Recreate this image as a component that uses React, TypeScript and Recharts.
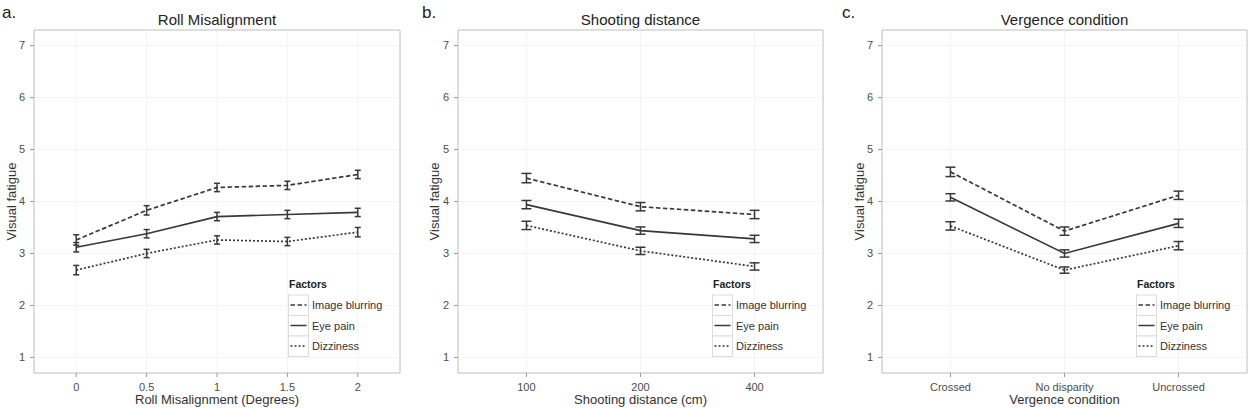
import React from 'react';
import {
  LineChart,
  Line,
  XAxis,
  YAxis,
  CartesianGrid,
  ErrorBar,
  ReferenceArea,
  Legend
} from 'recharts';

// Panel a: roll misalignment
const rollLabels = ['0', '0.5', '1', '1.5', '2'];
const rollBlur = [3.26, 3.83, 4.27, 4.31, 4.52];
const rollBlurErr = [0.1, 0.09, 0.08, 0.08, 0.08];
const rollEye = [3.12, 3.38, 3.71, 3.75, 3.79];
const rollEyeErr = [0.09, 0.08, 0.08, 0.08, 0.08];
const rollDizzy = [2.68, 3.0, 3.26, 3.23, 3.41];
const rollDizzyErr = [0.09, 0.08, 0.08, 0.08, 0.09];

// Panel b: shooting distance
const distLabels = ['100', '200', '400'];
const distBlur = [4.45, 3.9, 3.75];
const distBlurErr = [0.09, 0.08, 0.08];
const distEye = [3.94, 3.44, 3.28];
const distEyeErr = [0.08, 0.07, 0.07];
const distDizzy = [3.54, 3.05, 2.75];
const distDizzyErr = [0.08, 0.07, 0.07];

// Panel c: vergence condition
const vergLabels = ['Crossed', 'No disparity', 'Uncrossed'];
const vergBlur = [4.57, 3.43, 4.12];
const vergBlurErr = [0.09, 0.08, 0.08];
const vergEye = [4.08, 3.0, 3.58];
const vergEyeErr = [0.07, 0.07, 0.08];
const vergDizzy = [3.53, 2.68, 3.15];
const vergDizzyErr = [0.08, 0.06, 0.08];

const factorNames = ['Image blurring', 'Eye pain', 'Dizziness'];
const yTicks = [1, 2, 3, 4, 5, 6, 7];

const FONT = '"Liberation Sans", Arial, Helvetica, sans-serif';
const INK = '#383838';
const dashes = ['4.5 2.5', undefined, '2 2'];

type PanelProps = {
  offsetX: number;
  width: number;
  yAxisWidth: number;
  marginRight: number;
  yTitleX: number;
  capHalf: number;
  labels: string[];
  blur: number[];
  blurErr: number[];
  eye: number[];
  eyeErr: number[];
  dizzy: number[];
  dizzyErr: number[];
  letter: string;
  title: string;
  xTitle: string;
  legendLeft: number;
};

function FactorLegend() {
  return (
    <svg width={110} height={82} style={{ display: 'block', fontFamily: FONT }}>
      <text x={1} y={10} fontSize={10.5} fontWeight="bold" fill="#222">
        Factors
      </text>
      {factorNames.map((name, k) => {
        const top = 17 + k * 20.5;
        return (
          <g key={name}>
            <rect x={0.5} y={top} width={20} height={20.5} fill="#fff" stroke="#dcdcdc" />
            <line
              x1={2.5}
              x2={18.5}
              y1={top + 10}
              y2={top + 10}
              stroke={INK}
              strokeWidth={1.5}
              strokeDasharray={dashes[k]}
            />
            <text x={24} y={top + 14} fontSize={11} fill="#333">
              {name}
            </text>
          </g>
        );
      })}
    </svg>
  );
}

function Panel(p: PanelProps) {
  const n = p.labels.length;
  const data = p.labels.map((label, i) => ({
    i,
    label,
    blur: p.blur[i],
    blurErr: p.blurErr[i],
    eye: p.eye[i],
    eyeErr: p.eyeErr[i],
    dizzy: p.dizzy[i],
    dizzyErr: p.dizzyErr[i]
  }));
  const plotLeft = p.yAxisWidth;
  const plotRight = p.width - p.marginRight;
  const cx = (plotLeft + plotRight) / 2;
  const series = [
    { key: 'blur', err: 'blurErr', dash: dashes[0] },
    { key: 'eye', err: 'eyeErr', dash: dashes[1] },
    { key: 'dizzy', err: 'dizzyErr', dash: dashes[2] }
  ];

  return (
    <div style={{ position: 'absolute', left: p.offsetX, top: 0, width: p.width, height: 408 }}>
      <svg
        width={p.width}
        height={408}
        style={{ position: 'absolute', left: 0, top: 0, fontFamily: FONT }}
      >
        <text x={2} y={18} fontSize={17} fill="#222">
          {p.letter}
        </text>
        <text x={cx} y={25} fontSize={15} fill="#222" textAnchor="middle">
          {p.title}
        </text>
        <text x={cx} y={404} fontSize={13} fill="#333" textAnchor="middle">
          {p.xTitle}
        </text>
        <text
          x={0}
          y={0}
          fontSize={13}
          fill="#333"
          textAnchor="middle"
          transform={`translate(${p.yTitleX}, 201.5) rotate(-90)`}
        >
          Visual fatigue
        </text>
      </svg>
      <div style={{ position: 'absolute', left: 0, top: 0 }}>
        <LineChart
          width={p.width}
          height={408}
          data={data}
          margin={{ top: 30, right: p.marginRight, bottom: 15, left: 0 }}
          style={{ fontFamily: FONT }}
        >
          <CartesianGrid stroke="#f4f4f4" strokeWidth={1} />
          <XAxis
            dataKey="i"
            type="number"
            domain={[-0.6, n - 0.4]}
            ticks={data.map((d) => d.i)}
            tickFormatter={(v) => p.labels[Number(v)] ?? ''}
            axisLine={false}
            tickLine={{ stroke: '#9a9a9a' }}
            tickSize={4}
            tickMargin={6}
            height={20}
            tick={{ fill: '#4d4d4d', fontSize: 11 }}
            allowDataOverflow
          />
          <YAxis
            type="number"
            domain={[0.7, 7.3]}
            ticks={yTicks}
            axisLine={false}
            tickLine={{ stroke: '#9a9a9a' }}
            tickSize={4}
            tickMargin={5}
            width={p.yAxisWidth}
            tick={{ fill: '#4d4d4d', fontSize: 11 }}
            allowDataOverflow
          />
          <ReferenceArea
            x1={-0.6}
            x2={n - 0.4}
            y1={0.7}
            y2={7.3}
            fill="none"
            stroke="#c4c4c4"
            strokeWidth={1}
            ifOverflow="visible"
          />
          {series.map((s) => (
            <Line
              key={s.key}
              type="linear"
              dataKey={s.key}
              stroke={INK}
              strokeWidth={1.7}
              strokeDasharray={s.dash}
              dot={false}
              activeDot={false}
              isAnimationActive={false}
            >
              <ErrorBar
                dataKey={s.err}
                width={p.capHalf}
                stroke={INK}
                strokeWidth={1.5}
                direction="y"
              />
            </Line>
          ))}
          <Legend
            layout="vertical"
            align="center"
            verticalAlign="middle"
            wrapperStyle={{ left: p.legendLeft, top: 278, width: 110 }}
            content={() => <FactorLegend />}
          />
        </LineChart>
      </div>
    </div>
  );
}

export default function App() {
  return (
    <div
      style={{
        position: 'absolute',
        left: 0,
        top: 0,
        width: 1259,
        height: 408,
        background: '#fff',
        fontFamily: FONT
      }}
    >
      <Panel
        offsetX={0}
        width={420}
        yAxisWidth={34}
        marginRight={20}
        yTitleX={16}
        capHalf={3}
        labels={rollLabels}
        blur={rollBlur}
        blurErr={rollBlurErr}
        eye={rollEye}
        eyeErr={rollEyeErr}
        dizzy={rollDizzy}
        dizzyErr={rollDizzyErr}
        letter="a."
        title="Roll Misalignment"
        xTitle="Roll Misalignment (Degrees)"
        legendLeft={288}
      />
      <Panel
        offsetX={420}
        width={420}
        yAxisWidth={38}
        marginRight={17}
        yTitleX={19}
        capHalf={5}
        labels={distLabels}
        blur={distBlur}
        blurErr={distBlurErr}
        eye={distEye}
        eyeErr={distEyeErr}
        dizzy={distDizzy}
        dizzyErr={distDizzyErr}
        letter="b."
        title="Shooting distance"
        xTitle="Shooting distance (cm)"
        legendLeft={292}
      />
      <Panel
        offsetX={840}
        width={419}
        yAxisWidth={42}
        marginRight={12}
        yTitleX={23.5}
        capHalf={5}
        labels={vergLabels}
        blur={vergBlur}
        blurErr={vergBlurErr}
        eye={vergEye}
        eyeErr={vergEyeErr}
        dizzy={vergDizzy}
        dizzyErr={vergDizzyErr}
        letter="c."
        title="Vergence condition"
        xTitle="Vergence condition"
        legendLeft={296}
      />
    </div>
  );
}
